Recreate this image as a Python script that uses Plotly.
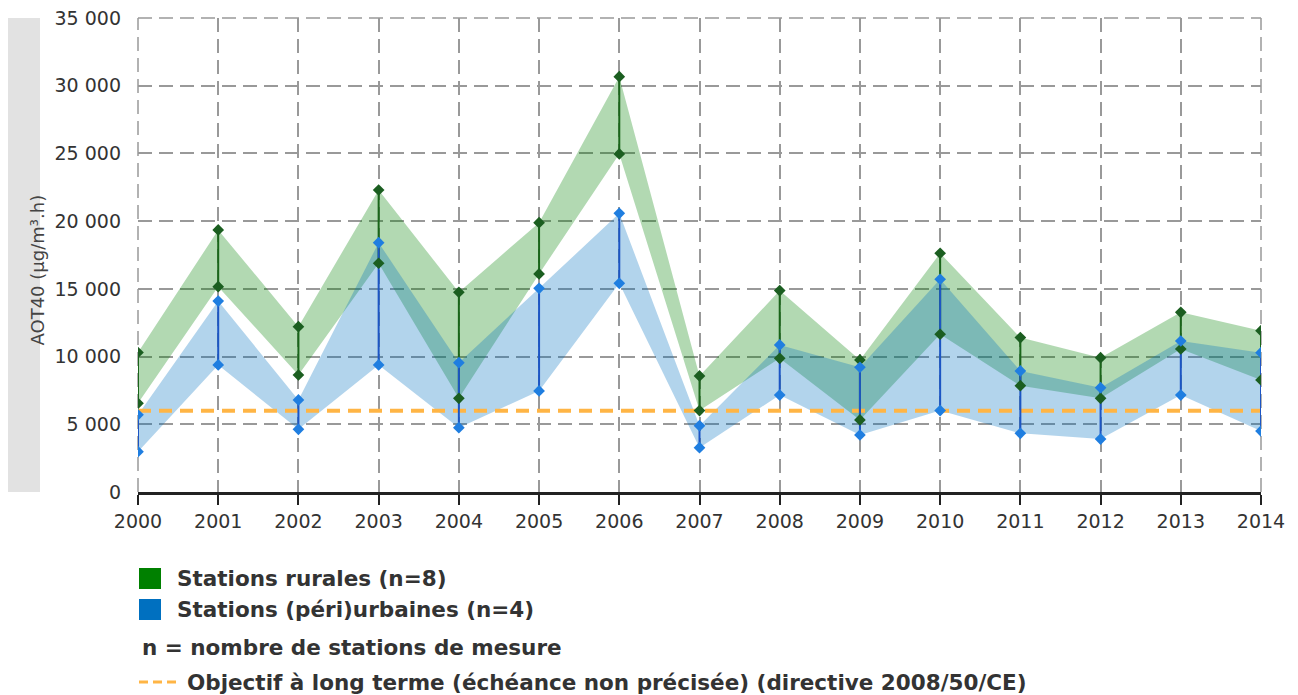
import plotly.graph_objects as go

years = list(range(2000, 2015))

# AOT40 (µg/m³.h) - stations rurales (n=8) : min / max
rural_max = [10300, 19350, 12210, 22300, 14750, 19890, 30670, 8570, 14870, 9750, 17630, 11400, 9920, 13270, 11910]
rural_min = [6550, 15160, 8640, 16890, 6920, 16100, 24960, 6010, 9870, 5320, 11650, 7850, 6920, 10560, 8270]

# stations (péri)urbaines (n=4) : min / max
urban_max = [5700, 14100, 6800, 18410, 9550, 15040, 20580, 4900, 10860, 9210, 15710, 8940, 7700, 11150, 10290]
urban_min = [2980, 9380, 4630, 9380, 4750, 7460, 15410, 3270, 7160, 4210, 6010, 4330, 3910, 7160, 4500]

objectif = 6000

legend_labels = [
    "Stations rurales (n=8)",
    "Stations (péri)urbaines (n=4)",
    "n = nombre de stations de mesure",
    "Objectif à long terme (échéance non précisée) (directive 2008/50/CE)",
]

FONT = "DejaVu Sans"
GRID = dict(color="#999999", width=1.5, dash="14px,7px")


def band(lo, hi, fillcolor):
    return go.Scatter(
        x=years + years[::-1], y=hi + lo[::-1],
        fill="toself", fillcolor=fillcolor, mode="none",
        hoverinfo="skip", showlegend=False,
    )


def ranges(lo, hi, color):
    xs, ys = [], []
    for x, a, b in zip(years, lo, hi):
        xs += [x, x, None]
        ys += [a, b, None]
    return go.Scatter(x=xs, y=ys, mode="lines", line=dict(color=color, width=2),
                      hoverinfo="skip", showlegend=False)


def ends(lo, hi, color):
    return go.Scatter(x=years + years, y=lo + hi, mode="markers",
                      marker=dict(symbol="diamond", size=9, color=color),
                      showlegend=False)


fig = go.Figure()
fig.add_trace(band(rural_min, rural_max, "rgba(0,128,0,0.3)"))
fig.add_trace(band(urban_min, urban_max, "rgba(0,112,192,0.3)"))
fig.add_trace(go.Scatter(x=[years[0], years[-1]], y=[objectif, objectif], mode="lines",
                         line=dict(color="#ffb545", width=4, dash="13px,8px"),
                         hoverinfo="skip", showlegend=False))
fig.add_trace(ranges(rural_min, rural_max, "#1a651a"))
fig.add_trace(ranges(urban_min, urban_max, "#1c55c4"))
fig.add_trace(ends(rural_min, rural_max, "#1b5e20"))
fig.add_trace(ends(urban_min, urban_max, "#1f7ee0"))

# la page ajoute 8 px de marge autour de la figure
fig.update_layout(
    width=1298, height=695,
    margin=dict(l=130, r=45, t=10, b=211),
    plot_bgcolor="white", paper_bgcolor="white",
    font=dict(family=FONT, size=19, color="#333333"),
    separators=", ",
    showlegend=False,
)
fig.update_xaxes(
    range=[years[0], years[-1]], tickmode="array", tickvals=years,
    showgrid=True, gridcolor=GRID["color"], gridwidth=GRID["width"], griddash=GRID["dash"],
    zeroline=False, showline=True, linecolor="#222222", linewidth=3,
    ticks="outside", ticklen=10, tickwidth=2, tickcolor="#222222",
    automargin=False,
)
fig.update_yaxes(
    range=[0, 35000], dtick=5000, separatethousands=True, exponentformat="none",
    showgrid=True, gridcolor=GRID["color"], gridwidth=GRID["width"], griddash=GRID["dash"],
    zeroline=False, showline=False, ticks="", ticklabelstandoff=16,
    ticklabeloverflow="allow", automargin=False,
)

# lignes de grille aux bords (plotly ne les trace pas)
for x0, y0, x1, y1 in [(0, 1, 1, 1), (0, 0, 0, 1), (1, 0, 1, 1)]:
    fig.add_shape(type="line", xref="paper", yref="paper", x0=x0, y0=y0, x1=x1, y1=y1,
                  line=GRID, layer="below")

# bandeau gris du titre de l'axe Y
fig.add_shape(type="rect", xref="paper", yref="paper", xsizemode="pixel", xanchor=0,
              x0=-130, x1=-98, y0=0, y1=1, fillcolor="#e2e2e2", line_width=0, layer="below")
fig.add_annotation(text="AOT40 (µg/m³.h)", xref="paper", yref="paper", x=0, y=0.5,
                   xshift=-114, yshift=-15, textangle=-90, showarrow=False,
                   font=dict(size=18, color="#444444"))

# légende
leg_colors = ["#008000", "#0070c0"]
leg_y = [-86, -117, -155, -190]
leg_x = [37, 37, 2, 47]
for i, c in enumerate(leg_colors):
    fig.add_shape(type="rect", xref="paper", yref="paper",
                  xsizemode="pixel", xanchor=0, ysizemode="pixel", yanchor=0,
                  x0=1, x1=23, y0=leg_y[i] - 11, y1=leg_y[i] + 10,
                  fillcolor=c, line_width=0)
fig.add_shape(type="line", xref="paper", yref="paper",
              xsizemode="pixel", xanchor=0, ysizemode="pixel", yanchor=0,
              x0=1, x1=39, y0=leg_y[3], y1=leg_y[3],
              line=dict(color="#ffb545", width=3, dash="9px,5px"))
for lab, xs, ys in zip(legend_labels, leg_x, leg_y):
    fig.add_annotation(text=f"<b>{lab}</b>", xref="paper", yref="paper", x=0, y=0,
                       xanchor="left", yanchor="middle", xshift=xs, yshift=ys,
                       showarrow=False, font=dict(size=21.5, color="#333333"))

fig.write_html("out.html")
